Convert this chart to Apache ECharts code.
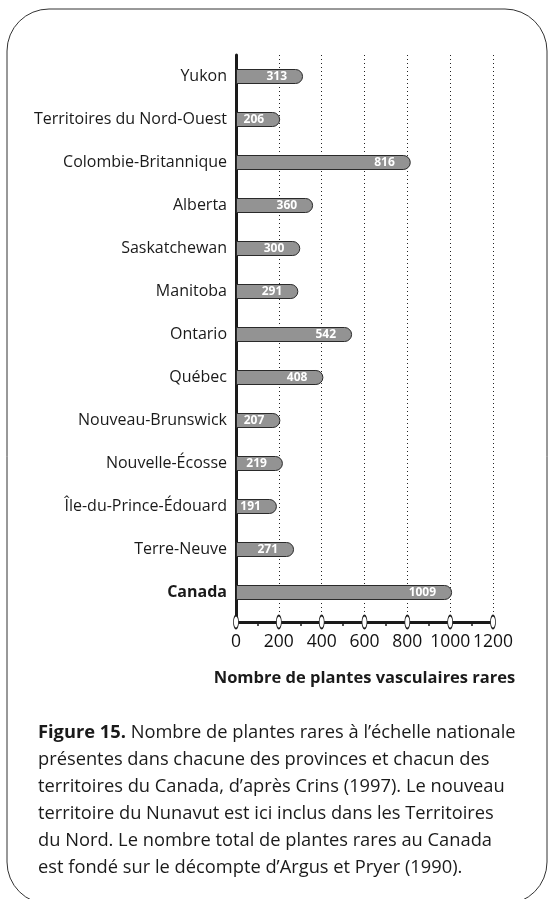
<!DOCTYPE html>
<html>
<head>
<meta charset="utf-8">
<script src="https://cdn.jsdelivr.net/npm/echarts@6/dist/echarts.min.js"></script>
<style>
  html, body { margin: 0; padding: 0; background: #fff; }
  #main { width: 551px; height: 899px; }
</style>
</head>
<body>
<div id="main"></div>
<script>
// provinces / territoires, du haut vers le bas
var regions = ['Yukon', 'Territoires du Nord-Ouest', 'Colombie-Britannique', 'Alberta',
    'Saskatchewan', 'Manitoba', 'Ontario', 'Québec', 'Nouveau-Brunswick',
    'Nouvelle-Écosse', 'Île-du-Prince-Édouard', 'Terre-Neuve', 'Canada'];
// nombre de plantes vasculaires rares
var rareCounts = [313, 206, 816, 360, 300, 291, 542, 408, 207, 219, 191, 271, 1009];
// graduations de l'axe horizontal
var xTicks = [0, 200, 400, 600, 800, 1000, 1200];

var axisName = 'Nombre de plantes vasculaires rares';
var captionLines = [
    '{b|Figure 15.} Nombre de plantes rares à l\u2019échelle nationale',
    'présentes dans chacune des provinces et chacun des',
    'territoires du Canada, d\u2019après Crins (1997). Le nouveau',
    'territoire du Nunavut est ici inclus dans les Territoires',
    'du Nord. Le nombre total de plantes rares au Canada',
    'est fondé sur le décompte d\u2019Argus et Pryer (1990).'
];

var fontFam = '"Open Sans", "Noto Sans", sans-serif';
var myChart = echarts.init(document.getElementById('main'));

var option = {
    backgroundColor: '#fff',
    animation: false,
    grid: [
        // barres
        { left: 236, right: 58, top: 55, height: 559 },
        // axe horizontal + quadrillage
        { left: 236, right: 58, top: 55, bottom: 277 }
    ],
    xAxis: [{
        gridIndex: 0, type: 'value', min: 0, max: 1200, interval: 200,
        show: false
    }, {
        gridIndex: 1, type: 'value', min: 0, max: 1200, interval: 200,
        name: axisName,
        nameLocation: 'middle',
        nameGap: 48,
        nameTextStyle: { fontFamily: fontFam, fontWeight: 'bold', fontSize: 16.5, color: '#1a1a1a' },
        axisLine: { lineStyle: { color: '#1a1a1a', width: 3 } },
        axisTick: { show: false },
        minorTick: { show: true, splitNumber: 2, length: 4, lineStyle: { color: '#1a1a1a', width: 1.5 } },
        axisLabel: {
            fontFamily: fontFam, fontSize: 17.5, color: '#111', margin: 11,
            hideOverlap: false, showMaxLabel: true, showMinLabel: true,
            formatter: function(v) { return String(v); }
        },
        splitLine: { show: true, lineStyle: { color: '#222', type: [1, 3], width: 1 } }
    }],
    yAxis: [{
        gridIndex: 0, type: 'category', data: regions, inverse: true,
        axisLine: { show: false },
        axisTick: { show: false },
        axisLabel: {
            fontFamily: fontFam, fontSize: 16, color: '#1a1a1a', margin: 9,
            formatter: function(v) { return v === 'Canada' ? '{b|' + v + '}' : v; },
            rich: { b: { fontFamily: fontFam, fontSize: 16, fontWeight: 'bold', color: '#1a1a1a' } }
        }
    }, {
        gridIndex: 1, type: 'value', min: 0, max: 1,
        axisLine: { show: true, onZero: false, lineStyle: { color: '#1a1a1a', width: 3 } },
        axisTick: { show: false },
        axisLabel: { show: false },
        splitLine: { show: false }
    }],
    series: [{
        type: 'bar',
        xAxisIndex: 0, yAxisIndex: 0,
        data: rareCounts,
        barWidth: 15,
        itemStyle: {
            color: '#939393',
            borderColor: '#2a2a2a',
            borderWidth: 1,
            borderRadius: [0, 9, 9, 0]
        },
        label: {
            show: true,
            position: 'insideRight',
            distance: 16,
            fontFamily: fontFam,
            fontSize: 12,
            fontWeight: 'bold',
            color: '#fff'
        },
        z: 3
    }, {
        // ovales sur l'axe horizontal
        type: 'scatter',
        xAxisIndex: 1, yAxisIndex: 1,
        data: xTicks.map(function(t) { return [t, 0]; }),
        symbol: 'circle',
        symbolSize: [5, 13],
        itemStyle: { color: '#fff', borderColor: '#1a1a1a', borderWidth: 1.2, opacity: 1 },
        clip: false,
        silent: true,
        z: 5
    }],
    graphic: [{
        type: 'rect',
        shape: { x: 7, y: 9, width: 540, height: 895, r: 42 },
        style: { fill: 'none', stroke: '#333', lineWidth: 1 },
        silent: true
    }, {
        type: 'text',
        left: 38,
        top: 719,
        style: {
            text: captionLines.join('\n'),
            fontFamily: fontFam,
            fontSize: 18.3,
            lineHeight: 27,
            fill: '#1a1a1a',
            rich: { b: { fontFamily: fontFam, fontSize: 18.3, fontWeight: 'bold', fill: '#1a1a1a', lineHeight: 27 } }
        }
    }]
};

myChart.setOption(option);
</script>
</body>
</html>
